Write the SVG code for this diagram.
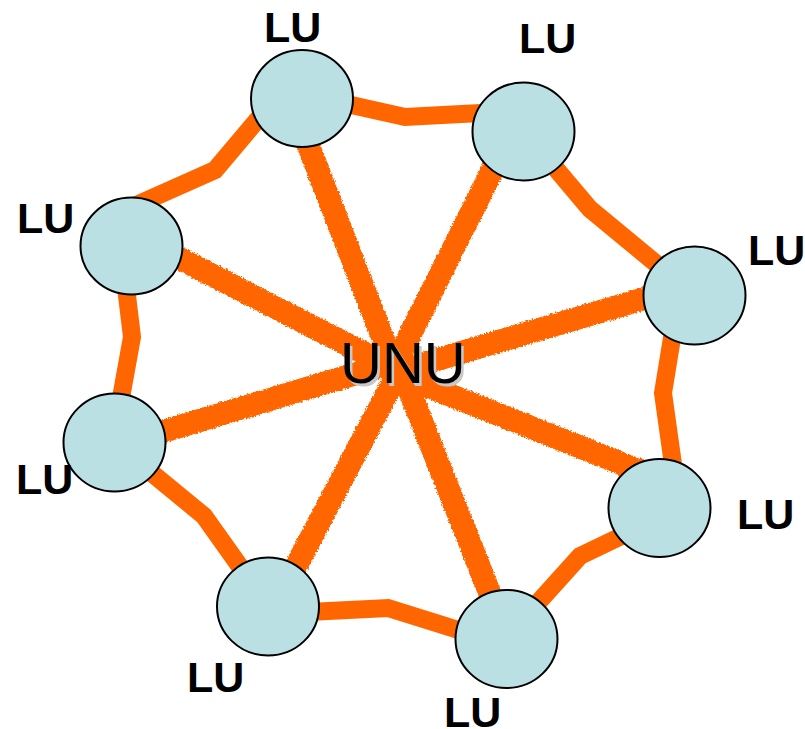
<svg xmlns="http://www.w3.org/2000/svg" width="805" height="729" viewBox="0 0 805 729">
<style>
.spoke{stroke:#FF6600;stroke-width:23;fill:none;stroke-linecap:butt}
.ring{stroke:#FF6600;stroke-width:18;fill:none;stroke-linejoin:miter;stroke-linecap:butt}
.node{fill:#BBE0E3;stroke:#000;stroke-width:2}
.lu{font-family:"Liberation Sans",Arial,sans-serif;font-weight:bold;font-size:43px;fill:#000}
.hub{font-family:"Liberation Sans",Arial,sans-serif;font-size:58px}
</style>
<defs>
<filter id="rough" filterUnits="userSpaceOnUse" x="0" y="0" width="805" height="729">
<feTurbulence type="fractalNoise" baseFrequency="0.6" numOctaves="2" seed="3" result="n"/>
<feDisplacementMap in="SourceGraphic" in2="n" scale="4" xChannelSelector="R" yChannelSelector="G"/>
</filter>
</defs>
<rect width="805" height="729" fill="#fff"/>
<g id="connectors">
<g id="spokes" filter="url(#rough)">
<line class="spoke" x1="394" y1="367" x2="290" y2="98"/>
<line class="spoke" x1="395" y1="369" x2="132" y2="234"/>
<line class="spoke" x1="394" y1="367" x2="512" y2="131"/>
<line class="spoke" x1="395" y1="372" x2="694" y2="284"/>
<line class="spoke" x1="395" y1="373" x2="660" y2="479"/>
<line class="spoke" x1="400" y1="367" x2="508" y2="639"/>
<line class="spoke" x1="401" y1="367" x2="275" y2="606"/>
<line class="spoke" x1="395" y1="362" x2="114" y2="446"/>
</g>
<g id="ring">
<polyline class="ring" points="302,94 405,117 500,112"/>
<polyline class="ring" points="524,131 590,209 694,295"/>
<polyline class="ring" points="679,295 663,393 678,500"/>
<polyline class="ring" points="655,520 580,556 507,637"/>
<polyline class="ring" points="500,643 388,608 268,614"/>
<polyline class="ring" points="268,606 204,516 114,442"/>
<polyline class="ring" points="113,442 132,337 121,246"/>
<polyline class="ring" points="132,207 215,170 275,99"/>
</g>
</g>
<g id="n1"><ellipse class="node" cx="302" cy="98.5" rx="51" ry="48.5"/><text class="lu" x="264" y="42">LU</text></g>
<g id="n2"><ellipse class="node" cx="131.5" cy="246" rx="51" ry="48.5"/><text class="lu" x="17" y="233">LU</text></g>
<g id="n3"><ellipse class="node" cx="523.5" cy="131.5" rx="51" ry="49"/><text class="lu" x="519" y="53">LU</text></g>
<g id="n4"><ellipse class="node" cx="694.5" cy="295.5" rx="51" ry="49"/><text class="lu" x="748" y="265">LU</text></g>
<g id="n5"><ellipse class="node" cx="659.5" cy="508" rx="51" ry="49"/><text class="lu" x="737" y="529">LU</text></g>
<g id="n6"><ellipse class="node" cx="506.5" cy="639" rx="51" ry="49"/><text class="lu" x="444" y="727">LU</text></g>
<g id="n7"><ellipse class="node" cx="268" cy="606.5" rx="51" ry="49"/><text class="lu" x="187" y="692">LU</text></g>
<g id="n8"><ellipse class="node" cx="114.5" cy="442.5" rx="51" ry="49"/><text class="lu" x="16" y="494">LU</text></g>
<g id="hub">
<text class="hub" x="342.5" y="385.5" fill="#C8C8C8">UNU</text>
<text class="hub" x="340" y="383" fill="#000">UNU</text>
</g>
</svg>
